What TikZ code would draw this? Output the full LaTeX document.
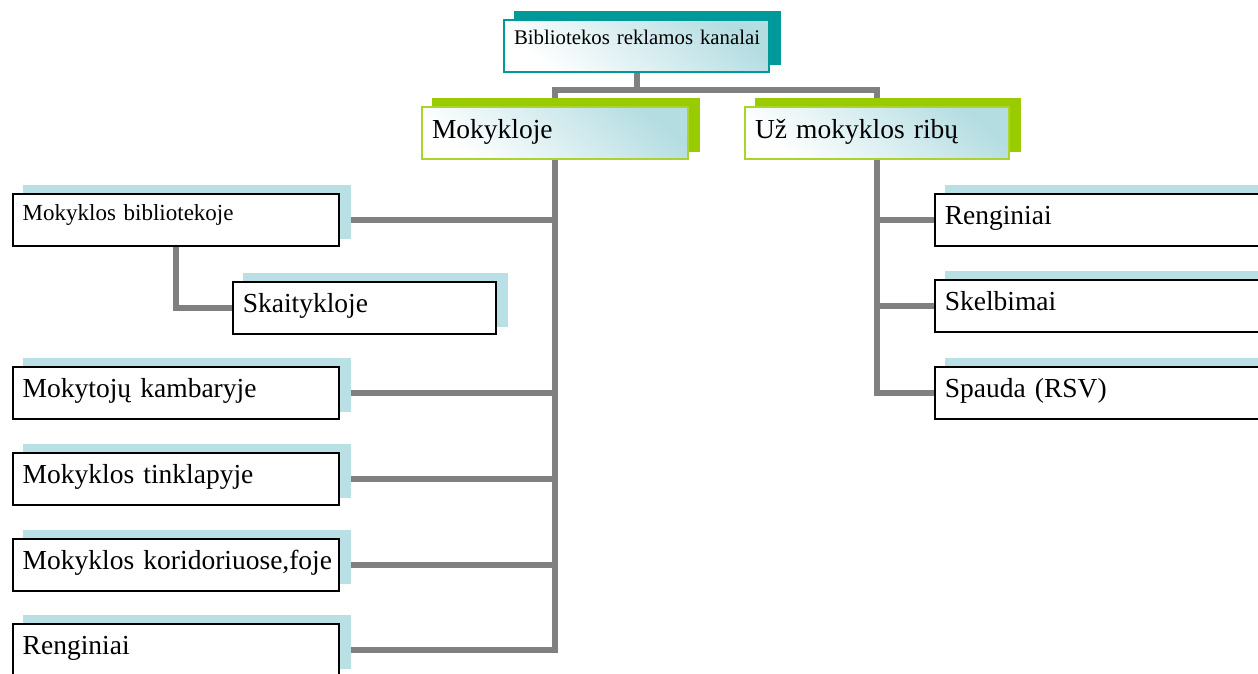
\documentclass[tikz,border=0pt]{standalone}
\usepackage{fontspec}
\setmainfont{Liberation Serif}
\usetikzlibrary{backgrounds}
\definecolor{tealc}{HTML}{009999}
\definecolor{greenc}{HTML}{99CC00}
\definecolor{greenb}{HTML}{AAD42C}
\definecolor{shadowb}{HTML}{B9E0E4}
\definecolor{shadel}{HTML}{B4DDE2}
\definecolor{connc}{HTML}{808080}
\begin{document}
\begin{tikzpicture}[x=1pt,y=-1pt,
  box/.style={rectangle,draw=black,line width=1.5pt,fill=white,anchor=north west,
    inner xsep=10pt,inner ysep=0pt,align=left,
    font=\fontsize{27.5}{30}\selectfont,text height=31pt,text depth=21pt},
  gbox/.style={box,draw=greenb,line width=2pt,top color=shadel,bottom color=white,shading angle=-40},
  tbox/.style={box,draw=tealc,line width=2pt,top color=shadel,bottom color=white,shading angle=-40,
    font=\fontsize{20.8}{24}\selectfont,text height=24pt,text depth=28pt},
  smallbox/.style={box,font=\fontsize{23}{26}\selectfont,text height=27pt,text depth=25pt},
  conn/.style={draw=connc,line width=6pt,line join=miter,line cap=butt}
]
\clip (0,0) rectangle (1258,673);

% boxes
\node[tbox,text width=245pt] (top) at (503,19) {\mbox{Bibliotekos reklamos kanalai}};
\node[gbox,text width=246pt] (mok) at (421,106) {Mokykloje};
\node[gbox,text width=244pt] (uz) at (744,106) {Už mokyklos ribų};

\node[smallbox,text width=306pt] (lib) at (12,193) {Mokyklos bibliotekoje};
\node[box,text width=243pt] (skait) at (232,281) {Skaitykloje};
\node[box,text width=306pt] (mokyt) at (12,366) {Mokytojų kambaryje};
\node[box,text width=306pt] (tinkl) at (12,452) {Mokyklos tinklapyje};
\node[box,text width=306pt] (korid) at (12,538) {\mbox{Mokyklos koridoriuose,foje}};
\node[box,text width=306pt] (renga) at (12,623) {Renginiai};

\node[box,text width=330pt] (rengb) at (934,193) {Renginiai};
\node[box,text width=330pt] (skelb) at (934,279) {Skelbimai};
\node[box,text width=330pt] (spauda) at (934,366) {Spauda (RSV)};

\begin{scope}[on background layer]
  % connectors
  \draw[conn] (top.south) -- ++(0,17) coordinate (tj);
  \draw[conn] (mok.north) |- (tj) -| (uz.north);
  \draw[conn] (mok.south) |- (renga.east);
  \draw[conn] (lib.east) -- (lib.east -| mok.south);
  \draw[conn] (mokyt.east) -- (mokyt.east -| mok.south);
  \draw[conn] (tinkl.east) -- (tinkl.east -| mok.south);
  \draw[conn] (korid.east) -- (korid.east -| mok.south);
  \draw[conn] ([xshift=164pt]lib.south west) |- (skait.west);
  \draw[conn] (uz.south) |- (spauda.west);
  \draw[conn] (rengb.west) -- (rengb.west -| uz.south);
  \draw[conn] (skelb.west) -- (skelb.west -| uz.south);
  % shadows
  \foreach \n/\c in {top/tealc,mok/greenc,uz/greenc,lib/shadowb,skait/shadowb,mokyt/shadowb,
      tinkl/shadowb,korid/shadowb,renga/shadowb,rengb/shadowb,skelb/shadowb,spauda/shadowb}{
    \fill[\c] ([shift={(11,-8)}]\n.north west) rectangle ([shift={(11,-8)}]\n.south east);
  }
\end{scope}
\end{tikzpicture}
\end{document}
